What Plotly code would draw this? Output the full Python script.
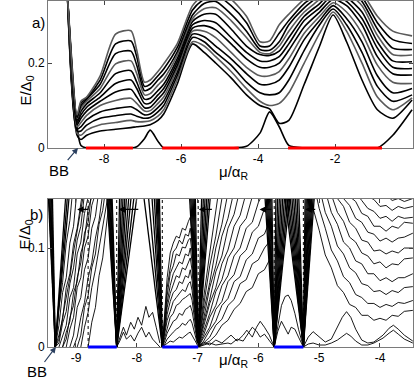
import plotly.graph_objects as go

# ---------------- panel a data ----------------
xa = [-8.95, -8.7, -8.6, -8.45, -8.1, -7.7, -7.3, -7.15, -6.95, -6.8, -6.6, -6.45, -6.1, -5.7, -5.4,
      -5.1, -4.7, -4.3, -3.95, -3.7, -3.45, -3.2, -2.8, -2.4, -2.05, -1.7, -1.3, -0.9, -0.5, 0.0]

a_levels = [
    [0.36, 0.05, 0.006, 0.0, 0.0, 0.0, 0.0, 0.003, 0.022, 0.042, 0.016, 0.0, 0.0, 0.0, 0.0,
     0.0, 0.0, 0.004, 0.035, 0.085, 0.05, 0.006, 0.0, 0.0, 0.0, 0.0, 0.0, 0.0, 0.03, 0.09],
    [0.36, 0.03, 0.02, 0.03, 0.04, 0.044, 0.048, 0.05, 0.052, 0.055, 0.065, 0.08, 0.15, 0.245, 0.225,
     0.2, 0.165, 0.125, 0.1, 0.092, 0.058, 0.065, 0.15, 0.24, 0.313, 0.25, 0.16, 0.09, 0.07, 0.113],
    [0.36, 0.035, 0.03, 0.042, 0.055, 0.06, 0.065, 0.062, 0.062, 0.064, 0.075, 0.09, 0.16, 0.25, 0.24,
     0.215, 0.18, 0.14, 0.11, 0.1, 0.105, 0.13, 0.2, 0.27, 0.32, 0.275, 0.2, 0.12, 0.09, 0.118],
    [0.36, 0.04, 0.04, 0.054, 0.07, 0.076, 0.08, 0.075, 0.07, 0.072, 0.085, 0.1, 0.17, 0.26, 0.25,
     0.225, 0.195, 0.155, 0.13, 0.125, 0.13, 0.16, 0.23, 0.29, 0.327, 0.29, 0.225, 0.145, 0.11, 0.125],
    [0.36, 0.045, 0.05, 0.066, 0.085, 0.093, 0.097, 0.09, 0.078, 0.08, 0.095, 0.11, 0.178, 0.268, 0.262,
     0.24, 0.21, 0.175, 0.15, 0.15, 0.16, 0.19, 0.255, 0.3, 0.335, 0.305, 0.25, 0.17, 0.13, 0.14],
    [0.36, 0.05, 0.06, 0.077, 0.1, 0.112, 0.117, 0.105, 0.087, 0.088, 0.105, 0.12, 0.186, 0.275, 0.275,
     0.26, 0.225, 0.19, 0.17, 0.17, 0.18, 0.21, 0.27, 0.31, 0.342, 0.32, 0.27, 0.195, 0.155, 0.152],
    [0.36, 0.055, 0.07, 0.087, 0.11, 0.132, 0.138, 0.12, 0.095, 0.096, 0.115, 0.13, 0.194, 0.282, 0.288,
     0.278, 0.245, 0.21, 0.19, 0.19, 0.2, 0.23, 0.285, 0.32, 0.35, 0.335, 0.29, 0.215, 0.175, 0.172],
    [0.36, 0.06, 0.078, 0.096, 0.12, 0.152, 0.16, 0.14, 0.105, 0.106, 0.125, 0.14, 0.202, 0.29, 0.3,
     0.295, 0.26, 0.225, 0.205, 0.205, 0.215, 0.245, 0.3, 0.33, 0.36, 0.345, 0.305, 0.235, 0.19, 0.187],
    [0.36, 0.065, 0.086, 0.104, 0.13, 0.175, 0.182, 0.155, 0.115, 0.117, 0.135, 0.15, 0.21, 0.298, 0.315,
     0.315, 0.28, 0.24, 0.22, 0.218, 0.228, 0.26, 0.31, 0.34, 0.37, 0.355, 0.32, 0.25, 0.205, 0.203],
    [0.36, 0.07, 0.094, 0.11, 0.14, 0.198, 0.205, 0.175, 0.125, 0.128, 0.148, 0.162, 0.218, 0.305, 0.328,
     0.33, 0.3, 0.26, 0.225, 0.222, 0.24, 0.275, 0.32, 0.35, 0.38, 0.365, 0.335, 0.265, 0.22, 0.219],
    [0.36, 0.072, 0.1, 0.115, 0.15, 0.222, 0.228, 0.195, 0.135, 0.14, 0.16, 0.174, 0.226, 0.313, 0.34,
     0.345, 0.315, 0.275, 0.232, 0.23, 0.25, 0.29, 0.33, 0.36, 0.39, 0.375, 0.345, 0.28, 0.235, 0.232],
    [0.36, 0.075, 0.106, 0.118, 0.16, 0.245, 0.252, 0.215, 0.145, 0.15, 0.17, 0.186, 0.236, 0.325, 0.35,
     0.36, 0.335, 0.295, 0.24, 0.24, 0.27, 0.3, 0.34, 0.365, 0.4, 0.385, 0.355, 0.295, 0.255, 0.246],
    [0.36, 0.078, 0.11, 0.12, 0.17, 0.268, 0.276, 0.23, 0.155, 0.16, 0.18, 0.198, 0.245, 0.335, 0.36,
     0.37, 0.35, 0.31, 0.25, 0.252, 0.29, 0.315, 0.35, 0.37, 0.4, 0.39, 0.365, 0.31, 0.275, 0.264],
]
a_gray = [2, 5, 9, 12]

a_red_start = [-8.47, -6.49, -3.22]
a_red_end = [-7.25, -4.5, -0.78]

# ---------------- panel b data ----------------
b_v_center = [-9.34, -8.33, -7.58, -6.99, -5.74, -5.26]
b_v_top = 0.16
b_v_left_tops = [
    [-9.46, -9.45, -9.435, -9.42, -9.405, -9.39],
    [-8.5, -8.485, -8.47, -8.455, -8.44, -8.425, -8.41],
    [-7.9, -7.82, -7.76, -7.72, -7.69, -7.67, -7.65, -7.63],
    [-7.14, -7.12, -7.1, -7.08, -7.06, -7.04],
    [-5.9, -5.88, -5.86, -5.84, -5.82, -5.8, -5.78],
    [-5.58, -5.55, -5.52, -5.49, -5.46, -5.43, -5.4, -5.37, -5.34],
]
b_v_right_tops = [
    [-9.16, -9.13, -9.1],
    [-8.28, -8.25, -8.22, -8.19, -8.16, -8.12, -8.08, -8.03, -7.98],
    [],
    [-6.93, -6.9, -6.87, -6.84, -6.81, -6.78],
    [-5.71, -5.68, -5.65, -5.62, -5.59, -5.56, -5.53, -5.5, -5.47],
    [-5.23, -5.21, -5.19, -5.17, -5.15, -5.13, -5.11, -5.09, -5.07],
]

N = None
x1 = [-9.34, -9.28, -9.22, -9.16, -9.1, -9.04, -8.98, -8.92, -8.86, -8.8, -8.74, -8.68, -8.62, -8.56, -8.5, -8.44]
fan1 = [
    [0.0, 0.04, 0.065, 0.105, 0.128, 0.168, N, N, N, N, N, N, N, N, N, N],
    [0.0, 0.022, 0.055, 0.07, 0.105, 0.122, 0.16, N, N, N, N, N, N, N, N, N],
    [0.0, 0.012, 0.028, 0.06, 0.074, 0.104, 0.12, 0.152, 0.17, N, N, N, N, N, N, N],
    [0.0, 0.008, 0.03, 0.05, 0.07, 0.096, 0.116, 0.14, 0.16, N, N, N, N, N, N, N],
    [0.0, 0.004, 0.024, 0.036, 0.064, 0.08, 0.108, 0.122, 0.155, 0.17, N, N, N, N, N, N],
    [N, 0.0, 0.01, 0.022, 0.05, 0.06, 0.094, 0.106, 0.135, 0.15, 0.168, N, N, N, N, N],
    [N, N, 0.0, 0.015, 0.026, 0.055, 0.066, 0.095, 0.108, 0.14, 0.152, 0.17, N, N, N, N],
    [N, N, 0.0, 0.008, 0.03, 0.042, 0.07, 0.085, 0.115, 0.126, 0.158, N, N, N, N, N],
    [N, N, N, 0.0, 0.018, 0.03, 0.06, 0.07, 0.1, 0.112, 0.143, 0.155, 0.17, N, N, N],
    [N, N, N, N, 0.0, 0.012, 0.04, 0.05, 0.078, 0.09, 0.12, 0.132, 0.16, N, N, N],
    [N, N, N, N, N, 0.0, 0.01, 0.03, 0.045, 0.07, 0.085, 0.11, 0.128, 0.155, N, N],
    [N, N, N, N, N, N, 0.0, 0.012, 0.04, 0.052, 0.08, 0.094, 0.124, 0.138, 0.165, N],
    [N, N, N, N, N, N, N, 0.0, 0.02, 0.035, 0.06, 0.078, 0.1, 0.12, 0.145, 0.165],
    [N, N, N, N, N, N, N, N, N, 0.0, 0.025, 0.04, 0.072, 0.09, 0.122, 0.155],
]

x_low3 = [-8.33, -8.28, -8.22, -8.17, -8.1, -8.04, -7.98, -7.92, -7.85, -7.8, -7.74, -7.68, -7.62]
low3 = [
    [0.0, 0.01, 0.02, 0.012, 0.025, 0.018, 0.03, 0.022, 0.041, 0.03, 0.035, 0.02, 0.004],
    [0.0, 0.006, 0.015, 0.008, 0.012, 0.006, 0.014, 0.02, 0.01, 0.015, 0.008, 0.004, 0.0],
]

x_dome = [-7.58, -7.54, -7.5, -7.45, -7.4, -7.35, -7.3, -7.25, -7.2, -7.15, -7.12, -7.09, -7.05, -7.02, -6.99]
dome = [
    [0, 0.04, 0.07, 0.095, 0.105, 0.112, 0.11, 0.12, 0.118, 0.127, 0.131, 0.115, 0.07, 0.035, 0],
    [0, 0.035, 0.06, 0.08, 0.096, 0.1, 0.108, 0.104, 0.114, 0.112, 0.12, 0.105, 0.064, 0.03, 0],
    [0, 0.03, 0.052, 0.074, 0.082, 0.094, 0.092, 0.101, 0.1, 0.108, 0.11, 0.095, 0.058, 0.027, 0],
    [0, 0.026, 0.045, 0.062, 0.074, 0.08, 0.086, 0.084, 0.094, 0.092, 0.1, 0.086, 0.052, 0.024, 0],
    [0, 0.022, 0.04, 0.054, 0.062, 0.072, 0.07, 0.08, 0.078, 0.086, 0.09, 0.077, 0.047, 0.021, 0],
    [0, 0.018, 0.033, 0.046, 0.055, 0.058, 0.066, 0.064, 0.072, 0.07, 0.078, 0.067, 0.041, 0.018, 0],
    [0, 0.014, 0.027, 0.036, 0.046, 0.05, 0.054, 0.058, 0.056, 0.064, 0.066, 0.057, 0.035, 0.015, 0],
    [0, 0.01, 0.02, 0.03, 0.034, 0.042, 0.044, 0.048, 0.05, 0.052, 0.054, 0.047, 0.029, 0.012, 0],
    [0, 0.006, 0.014, 0.02, 0.026, 0.028, 0.034, 0.032, 0.038, 0.04, 0.042, 0.036, 0.022, 0.01, 0],
    [0, 0.003, 0.008, 0.012, 0.015, 0.018, 0.02, 0.024, 0.022, 0.026, 0.028, 0.024, 0.015, 0.006, 0],
    [0, 0.002, 0.004, 0.006, 0.005, 0.008, 0.01, 0.009, 0.012, 0.014, 0.015, 0.012, 0.008, 0.004, 0],
]

x5 = [-6.99, -6.9, -6.8, -6.7, -6.6, -6.5, -6.4, -6.3, -6.2, -6.1, -6.0, -5.9, -5.8]
fan5 = [
    [0, 0.05, 0.095, 0.14, 0.18, N, N, N, N, N, N, N, N],
    [0, 0.042, 0.082, 0.112, 0.15, 0.175, N, N, N, N, N, N, N],
    [0, 0.036, 0.065, 0.1, 0.124, 0.156, 0.172, N, N, N, N, N, N],
    [0, 0.03, 0.06, 0.082, 0.112, 0.13, 0.158, 0.175, N, N, N, N, N],
    [0, 0.025, 0.048, 0.076, 0.092, 0.12, 0.134, 0.16, 0.172, N, N, N, N],
    [0, 0.02, 0.044, 0.06, 0.084, 0.098, 0.122, 0.133, 0.156, 0.168, N, N, N],
    [0, 0.016, 0.034, 0.056, 0.068, 0.09, 0.1, 0.122, 0.13, 0.152, 0.162, N, N],
    [0, 0.012, 0.03, 0.042, 0.062, 0.072, 0.092, 0.1, 0.12, 0.126, 0.146, 0.158, N],
    [0, 0.01, 0.02, 0.038, 0.046, 0.066, 0.073, 0.092, 0.098, 0.116, 0.122, 0.14, 0.148],
    [0, 0.006, 0.017, 0.026, 0.042, 0.049, 0.066, 0.071, 0.088, 0.094, 0.11, 0.114, 0.13],
    [0, 0.004, 0.01, 0.022, 0.028, 0.042, 0.048, 0.064, 0.068, 0.084, 0.088, 0.1, 0.108],
    [0, 0.003, 0.006, 0.012, 0.022, 0.027, 0.038, 0.044, 0.056, 0.06, 0.074, 0.078, 0.09],
]

x_low5 = [-6.99, -6.9, -6.8, -6.7, -6.6, -6.5, -6.45, -6.35, -6.25, -6.19, -6.1, -6.03, -5.97, -5.9, -5.82, -5.74]
low5 = [
    [0, 0.005, 0.002, 0.007, 0.004, 0.01, 0.012, 0.006, 0.012, 0.017, 0.01, 0.02, 0.026, 0.02, 0.012, 0],
    [0, 0.002, 0.004, 0.002, 0.003, 0.004, 0.003, 0.008, 0.006, 0.012, 0.02, 0.016, 0.01, 0.013, 0.006, 0],
]

x_low6 = [-5.74, -5.68, -5.62, -5.56, -5.51, -5.46, -5.4, -5.34, -5.3, -5.26]
low6 = [
    [0, 0.022, 0.042, 0.051, 0.0525, 0.047, 0.034, 0.018, 0.008, 0],
    [0, 0.016, 0.026, 0.018, 0.013, 0.02, 0.018, 0.01, 0.004, 0],
]

x_low7 = [-5.26, -5.18, -5.1, -5.0, -4.9, -4.8, -4.7, -4.62, -4.55, -4.48, -4.4, -4.3, -4.2, -4.1,
          -3.95, -3.85, -3.78, -3.7, -3.6, -3.46]
low7 = [
    [0, 0.01, 0.0155, 0.01, 0.005, 0.008, 0.02, 0.03, 0.0357, 0.03, 0.018, 0.007, 0.004, 0.005,
     0.012, 0.019, 0.022, 0.018, 0.012, 0.006],
    [0, 0.003, 0.004, 0.002, 0.002, 0.004, 0.007, 0.011, 0.0138, 0.011, 0.006, 0.002, 0.002, 0.004,
     0.009, 0.014, 0.017, 0.013, 0.008, 0.004],
]

x7 = [-5.2, -5.1, -5.0, -4.9, -4.8, -4.7, -4.6, -4.5, -4.4, -4.3, -4.2, -4.1, -4.0, -3.9, -3.8, -3.7, -3.6, -3.46]
fan7 = [
    [0.17, 0.14, 0.118, 0.093, 0.08, 0.062, 0.055, 0.043, 0.04, 0.032, 0.032, 0.027, 0.029, 0.027, 0.032, 0.031, 0.036, 0.037],
    [N, 0.168, 0.14, 0.12, 0.098, 0.087, 0.071, 0.065, 0.053, 0.05, 0.044, 0.044, 0.04, 0.043, 0.041, 0.045, 0.044, 0.047],
    [N, N, 0.162, 0.136, 0.122, 0.102, 0.094, 0.08, 0.075, 0.064, 0.062, 0.056, 0.057, 0.053, 0.057, 0.055, 0.06, 0.061],
    [N, N, 0.18, 0.157, 0.136, 0.124, 0.106, 0.1, 0.087, 0.084, 0.074, 0.074, 0.067, 0.07, 0.066, 0.07, 0.07, 0.074],
    [N, N, N, 0.172, 0.155, 0.136, 0.127, 0.111, 0.106, 0.095, 0.092, 0.084, 0.086, 0.08, 0.084, 0.083, 0.089, 0.09],
    [N, N, N, N, 0.17, 0.15, 0.142, 0.126, 0.12, 0.108, 0.106, 0.097, 0.098, 0.094, 0.097, 0.095, 0.1, 0.1],
    [N, N, N, N, N, 0.168, 0.15, 0.143, 0.13, 0.126, 0.116, 0.114, 0.107, 0.11, 0.106, 0.11, 0.111, 0.115],
    [N, N, N, N, N, N, 0.168, 0.152, 0.147, 0.135, 0.132, 0.122, 0.122, 0.117, 0.122, 0.12, 0.126, 0.125],
    [N, N, N, N, N, N, N, 0.166, 0.156, 0.148, 0.14, 0.137, 0.13, 0.132, 0.127, 0.132, 0.13, 0.131],
    [N, N, N, N, N, N, N, N, N, 0.162, 0.152, 0.149, 0.142, 0.143, 0.138, 0.142, 0.14, 0.142],
    [N, N, N, N, N, N, N, N, N, N, N, 0.158, 0.152, 0.154, 0.148, 0.15, 0.147, 0.15],
]

b_dotted_x = [-8.8, -8.33, -7.58, -6.99, -5.74, -5.26]
b_dotted_top = 0.15
b_blue_start = [-8.8, -7.58, -5.74]
b_blue_end = [-8.33, -6.99, -5.26]
b_arrow_tail = [-8.77, -7.95, -6.74, -5.76, -5.04]
b_arrow_head = [-8.98, -8.3, -6.98, -5.98, -5.23]
b_arrow_e = 0.139

FONT = "Liberation Sans, Arial, sans-serif"
fig = go.Figure()

# panel a
for i, lev in enumerate(a_levels):
    col = "#5a5a5a" if i in a_gray else "black"
    fig.add_trace(go.Scatter(x=xa, y=lev, mode="lines", xaxis="x", yaxis="y",
                             line=dict(color=col, width=1.6, shape="spline", smoothing=0.7),
                             hoverinfo="skip", showlegend=False))


def add_group(xs, rows, width=0.9):
    X, Y = [], []
    for r in rows:
        X += list(xs) + [None]
        Y += list(r) + [None]
    fig.add_trace(go.Scatter(x=X, y=Y, mode="lines", xaxis="x2", yaxis="y2", connectgaps=False,
                             line=dict(color="black", width=width),
                             hoverinfo="skip", showlegend=False))


# V shaped bulk bands
vx, vy = [], []
for c, lefts, rights in zip(b_v_center, b_v_left_tops, b_v_right_tops):
    for t in lefts:
        vx += [t, c, None]
        vy += [b_v_top, 0, None]
    for t in rights:
        vx += [c, t, None]
        vy += [0, b_v_top, None]
fig.add_trace(go.Scatter(x=vx, y=vy, mode="lines", xaxis="x2", yaxis="y2",
                         line=dict(color="black", width=1.3), hoverinfo="skip", showlegend=False))

add_group(x1, fan1)
add_group(x_low3, low3)
add_group(x_dome, dome)
add_group(x5, fan5)
add_group(x_low5, low5)
add_group(x_low6, low6)
add_group(x_low7, low7)
add_group(x7, fan7)

dx, dy = [], []
for d in b_dotted_x:
    dx += [d, d, None]
    dy += [0, b_dotted_top, None]
fig.add_trace(go.Scatter(x=dx, y=dy, mode="lines", xaxis="x2", yaxis="y2",
                         line=dict(color="black", width=1, dash="dot"),
                         hoverinfo="skip", showlegend=False))

shapes = []
for s, e in zip(a_red_start, a_red_end):
    shapes.append(dict(type="line", xref="x", yref="y domain", x0=s, x1=e, y0=0, y1=0,
                       line=dict(color="#ff0000", width=3), layer="above"))
for s, e in zip(b_blue_start, b_blue_end):
    shapes.append(dict(type="line", xref="x2", yref="y2 domain", x0=s, x1=e, y0=0, y1=0,
                       line=dict(color="#0000ff", width=3), layer="above"))

ann = []
for t, h in zip(b_arrow_tail, b_arrow_head):
    ann.append(dict(x=h, y=b_arrow_e, ax=t, ay=b_arrow_e, xref="x2", yref="y2", axref="x2", ayref="y2",
                    text="", showarrow=True, arrowhead=2, arrowsize=1, arrowwidth=1.3, arrowcolor="black"))

lab = dict(size=15, color="black", family=FONT)
ann += [
    dict(x=-8.675, y=0, xref="x", yref="y", text="BB", showarrow=True, ax=-19, ay=22,
         arrowhead=2, arrowsize=1, arrowwidth=1.2, font=lab),
    dict(x=-9.33, y=0, xref="x2", yref="y2", text="BB", showarrow=True, ax=-19, ay=25,
         arrowhead=2, arrowsize=1, arrowwidth=1.2, font=lab),
    dict(x=-0.049, y=0.968, xref="paper", yref="paper", text="a)", showarrow=False, font=lab),
    dict(x=-0.055, y=0.384, xref="paper", yref="paper", text="b)", showarrow=False, font=lab),
    dict(x=-0.093, y=0.789, xref="paper", yref="paper", text="E/Δ<sub>0</sub>", textangle=-90,
         showarrow=False, font=lab),
    dict(x=-0.093, y=0.275, xref="paper", yref="paper", text="E/Δ<sub>0</sub>", textangle=-90,
         showarrow=False, font=lab),
    dict(x=0.507, y=0.503, xref="paper", yref="paper", text="μ/α<sub>R</sub>", showarrow=False, font=lab),
    dict(x=0.507, y=-0.072, xref="paper", yref="paper", text="μ/α<sub>R</sub>", showarrow=False, font=lab),
]

ax_common = dict(showline=True, mirror="ticks", linecolor="#7a7a7a", linewidth=1, ticks="inside",
                 ticklen=4, tickcolor="#444", showgrid=False, zeroline=False, automargin=False,
                 tickfont=dict(size=12, color="black", family=FONT))

fig.update_layout(
    width=415, height=384, margin=dict(l=48, r=2, t=1, b=37, autoexpand=False),
    paper_bgcolor="white", plot_bgcolor="white", showlegend=False,
    xaxis=dict(ax_common, domain=[0, 1], anchor="y", range=[-9.455, 0.025],
               tickvals=[-8, -6, -4, -2, 0], ticktext=["-8", "-6", "-4", "-2", "0"]),
    yaxis=dict(ax_common, domain=[0.5751, 1.0], anchor="x", range=[0, 0.346],
               tickvals=[0, 0.2], ticktext=["0", "0.2"]),
    xaxis2=dict(ax_common, domain=[0, 1], anchor="y2", range=[-9.46, -3.457],
                tickvals=[-9, -8, -7, -6, -5, -4], ticktext=["-9", "-8", "-7", "-6", "-5", "-4"]),
    yaxis2=dict(ax_common, domain=[0, 0.4277], anchor="x2", range=[0, 0.1495],
                tickvals=[0, 0.1], ticktext=["0", "0.1"]),
    shapes=shapes, annotations=ann,
)

fig.write_html("out.html", config={"displayModeBar": False},
               post_script="document.body.style.margin='0';document.body.style.overflow='hidden';")
